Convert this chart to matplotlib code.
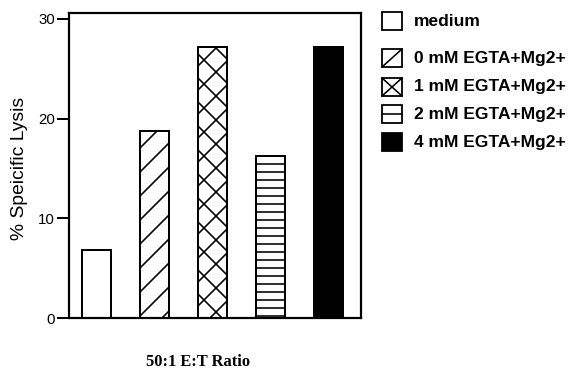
import matplotlib
matplotlib.use('Agg')
import matplotlib.pyplot as plt
from matplotlib.patches import Rectangle
from matplotlib.lines import Line2D

# Specific lysis at a 50:1 effector:target ratio
conditions = ['medium', '0 mM EGTA+Mg2+', '1 mM EGTA+Mg2+',
              '2 mM EGTA+Mg2+', '4 mM EGTA+Mg2+']
lysis = [6.8, 18.8, 27.2, 16.3, 27.2]
yticks = [0, 10, 20, 30]

fills = ['white', 'white', 'white', 'white', 'black']
hatches = [None, '//', 'xx', '---', None]
# what goes inside each small legend box
glyphs = [[], ['/'], ['/', '\\'], ['-'], []]

DPI = 144
W, H = 575, 369


def fx(px):
    return px / W


def fy(px):
    return 1 - px / H


plt.rcParams['hatch.linewidth'] = 0.8
plt.rcParams['font.family'] = 'Liberation Sans'

fig = plt.figure(figsize=(W / DPI, H / DPI), dpi=DPI)
ax = fig.add_axes([fx(69), fy(318), fx(361) - fx(69), fy(13) - fy(318)])

x = range(len(lysis))
bars = ax.bar(x, lysis, width=0.5, color=fills, edgecolor='black',
              linewidth=1.0)
for b, h in zip(bars, hatches):
    if h:
        b.set_hatch(h)

ax.set_xlim(-0.47, 4.56)
ax.set_ylim(0, 30.6)
ax.set_xticks([])
ax.set_yticks(yticks)
ax.set_yticklabels([str(t) for t in yticks], fontsize=7.5)
ax.tick_params(axis='y', direction='out', length=6, width=1.0, pad=1)
for s in ax.spines.values():
    s.set_linewidth(1.1)

fig.text(fx(20), fy(168), '% Speicific Lysis', rotation=90,
         ha='center', va='center', fontsize=9.6)
fig.text(fx(198), fy(362), '50:1 E:T Ratio', ha='center', va='center',
         fontsize=8.2, fontweight='bold', family='Liberation Serif')

# hand-placed legend on the right
rows = [21, 58, 87, 114, 142]
x0, x1 = 382, 402
for yc, lab, fc, g in zip(rows, conditions, fills, glyphs):
    y0, y1 = yc + 9, yc - 9
    fig.add_artist(Rectangle((fx(x0), fy(y0)), fx(x1) - fx(x0),
                             fy(y1) - fy(y0), transform=fig.transFigure,
                             facecolor=fc, edgecolor='black', linewidth=0.9))
    for kind in g:
        if kind == '/':
            xs, ys = [x0, x1], [y0, y1]
        elif kind == '\\':
            xs, ys = [x0, x1], [y1, y0]
        else:
            xs, ys = [x0, x1], [yc, yc]
        fig.add_artist(Line2D([fx(v) for v in xs], [fy(v) for v in ys],
                              transform=fig.transFigure, color='black',
                              linewidth=0.8))
    fig.text(fx(414), fy(yc), lab, ha='left', va='center',
             fontsize=8.7, fontweight='bold')

fig.savefig('out.png', dpi=DPI)
